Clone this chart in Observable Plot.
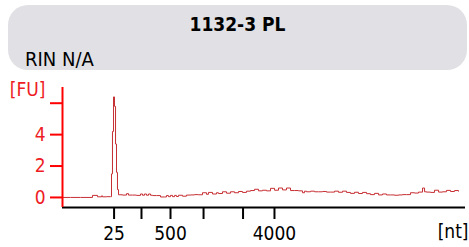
<!DOCTYPE html>
<html>
<head>
<meta charset="utf-8">
<script src="https://cdn.jsdelivr.net/npm/d3@7"></script>
<script src="https://cdn.jsdelivr.net/npm/@observablehq/plot@0.6"></script>
<style>
  html, body { margin:0; padding:0; background:#fff; }
  body { width:469px; height:247px; overflow:hidden; position:relative; font-family:"DejaVu Sans Condensed","DejaVu Sans",sans-serif; }
  #hdr { position:absolute; left:8px; top:5px; width:459px; height:65px; background:#e1e1e5; border-radius:20px; }
  #title { position:absolute; left:0; width:100%; top:10px; text-align:center; font-weight:bold; font-size:19px; line-height:19px; color:#000; }
  #rin { position:absolute; left:17px; top:44px; font-size:20px; line-height:20px; color:#000; }
  #chart { position:absolute; left:0; top:75px; }
</style>
</head>
<body>
<div id="hdr"><div id="title"></div><div id="rin"></div></div>
<div id="chart"></div>
<script>
const titleText = "1132-3 PL";
const rinText = "RIN N/A";
const yLabel = "[FU]";
const xLabel = "[nt]";

// ladder: sizes (nt) and their migration positions (s)
const ladderNt = [25, 200, 500, 1000, 2000, 4000];
const ladderTime = [25.4, 28.8, 32.4, 36.5, 41.4, 45.3];
const ladderShown = ["25", "", "500", "", "", "4000"];

const yTicks = [0, 2, 4, 6];
const yTickLabels = ["0", "2", "4", ""];

// electropherogram trace: migration time (s) and fluorescence (FU)
const time = [19.00,19.99,21.23,22.72,23.34,23.84,23.96,24.46,24.96,25.08,25.20,25.33,25.45,25.58,25.70,25.82,25.95,
  26.44,26.94,27.19,27.68,28.18,28.68,28.93,29.17,29.42,29.67,29.92,30.17,30.66,31.16,31.66,31.90,32.15,32.40,32.65,
  32.90,33.14,33.39,33.89,34.38,34.88,35.38,35.87,36.37,36.87,37.11,37.61,38.11,38.35,38.85,39.35,39.84,40.34,40.84,
  41.33,41.83,42.33,42.82,43.32,43.81,44.31,44.81,45.31,45.80,46.30,46.79,47.29,47.78,48.28,48.78,49.03,49.27,49.77,
  50.27,50.76,51.26,51.76,52.25,52.75,53.24,53.74,54.24,54.73,55.23,55.72,56.22,56.72,57.21,57.71,58.21,58.70,59.20,
  59.70,60.19,60.69,61.18,61.68,62.18,62.67,63.17,63.67,63.92,64.16,64.66,65.15,65.66,66.15,66.64,67.14,67.64,68.13];
const fu = [0.00,0.00,0.00,0.13,0.04,0.10,0.04,0.05,0.05,1.5,4.2,6.4,5.8,3.4,1.6,0.5,0.17,
  0.15,0.24,0.15,0.15,0.13,0.22,0.14,0.22,0.14,0.22,0.14,0.12,0.12,0.03,0.03,0.12,0.05,0.13,0.05,
  0.13,0.06,0.14,0.08,0.15,0.16,0.18,0.17,0.30,0.20,0.32,0.22,0.30,0.25,0.36,0.27,0.36,0.30,0.38,
  0.32,0.40,0.44,0.52,0.42,0.46,0.42,0.58,0.46,0.60,0.48,0.60,0.44,0.44,0.42,0.30,0.40,0.36,0.40,
  0.36,0.36,0.38,0.34,0.34,0.40,0.33,0.40,0.32,0.26,0.33,0.25,0.32,0.24,0.18,0.26,0.16,0.22,0.16,
  0.16,0.14,0.16,0.18,0.18,0.30,0.28,0.34,0.60,0.36,0.34,0.32,0.46,0.34,0.36,0.45,0.38,0.44,0.40];

document.getElementById("title").textContent = titleText;
document.getElementById("rin").textContent = rinText;

const trace = time.map((t, i) => ({t, v: fu[i]}));
const xDomain = [19, 69];
const yDomain = [-0.64, 7.0];
const red = "#ee1c25";
const font = "DejaVu Sans Condensed, DejaVu Sans, sans-serif";

const chart = Plot.plot({
  width: 469,
  height: 172,
  marginLeft: 62,
  marginRight: 4,
  marginTop: 12,
  marginBottom: 40,
  style: {fontFamily: font, fontSize: "19px", background: "transparent", overflow: "visible"},
  x: {domain: xDomain, axis: null},
  y: {domain: yDomain, axis: null},
  marks: [
    Plot.line(trace, {x: "t", y: "v", curve: "step-after", stroke: "#c62f33", strokeWidth: 1}),
    Plot.ruleY([yDomain[0]], {stroke: "#000", strokeWidth: 2}),
    Plot.ruleX([xDomain[0]], {y1: yDomain[0], y2: yDomain[1], stroke: "red", strokeWidth: 2}),
    Plot.axisY({ticks: yTicks, tickFormat: (d) => yTickLabels[yTicks.indexOf(d)], tickSize: 12, tickPadding: 5,
      stroke: "red", strokeWidth: 2, fill: red, fontSize: 19, label: null}),
    Plot.axisX({ticks: ladderTime, tickFormat: d => ladderShown[ladderTime.indexOf(d)], tickSize: 12, tickPadding: 7,
      stroke: "#000", strokeWidth: 2, fill: "#000", fontSize: 19, label: null}),
    Plot.text([yLabel], {frameAnchor: "top-left", textAnchor: "end", lineAnchor: "top", dx: -17, dy: -5, fill: red, fontSize: 19}),
    Plot.text([xLabel], {frameAnchor: "bottom-right", textAnchor: "end", lineAnchor: "top", dx: 3, dy: 17, fill: "#000", fontSize: 19})
  ]
});
document.getElementById("chart").appendChild(chart);
</script>
</body>
</html>
